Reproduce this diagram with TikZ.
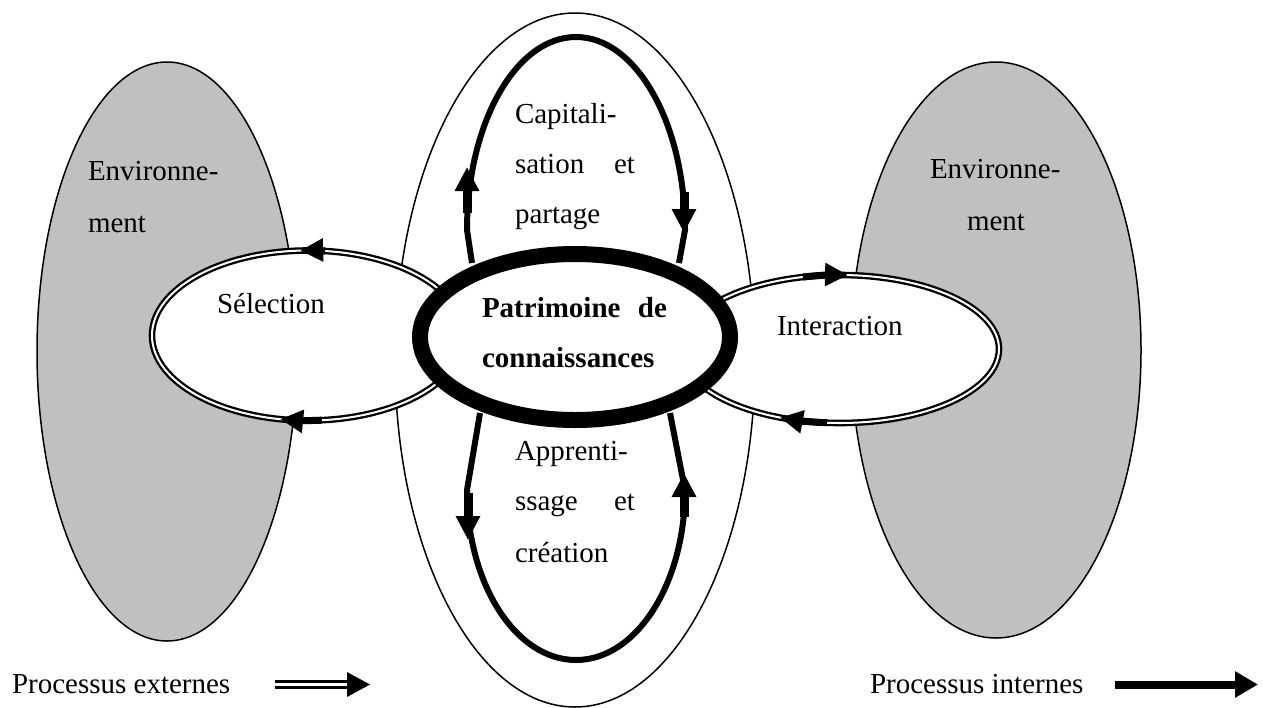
\documentclass[tikz,border=0pt]{standalone}
\usepackage{fontspec}
\setmainfont{Liberation Serif}
\usetikzlibrary{shapes.geometric,arrows.meta,calc}
\definecolor{envgray}{HTML}{C0C0C0}

\begin{document}
\begin{tikzpicture}[x=0.5pt,y=-0.5pt,
  every node/.style={font=\fontsize{14.5}{17}\selectfont, inner sep=0pt, outer sep=0pt},
  txt/.style={anchor=base west},
  envzone/.style={ellipse, draw, line width=0.75pt, fill=envgray},
  outerzone/.style={ellipse, draw, line width=0.75pt, fill=white},
  extproc/.style={ellipse, draw, fill=white, double, line width=1.15pt, double distance=1pt},
  corezone/.style={ellipse, draw, fill=white, line width=8pt},
  extarrow/.style={line width=3.5pt, -{Triangle[length=11.5pt,width=11pt]}},
  loopline/.style={line width=3pt},
  looparrow/.style={line width=4.5pt, -{Triangle[length=12pt,width=11.5pt]}},
]
\useasboundingbox (0,0) rectangle (1263,707);

% environment zones
\node[envzone, minimum width=130pt, minimum height=289.5pt] (envL) at (167,351.5) {};
\node[envzone, minimum width=145pt, minimum height=288pt] (envR) at (996,350) {};

% enterprise boundary
\node[outerzone, minimum width=180pt, minimum height=347pt] (firm) at (575,360) {};

% external processes
\node[extproc, minimum width=156pt, minimum height=85pt] (sel) at (308,335.5) {};
\node[extproc, minimum width=159pt, minimum height=74pt] (int) at (840,349) {};

\draw[extarrow] ($(sel.center)+(-83.7:156 and 85)$) arc[start angle=-83.7, end angle=-92.9, x radius=156, y radius=85];
\draw[extarrow] ($(sel.center)+(84.9:156 and 85)$) arc[start angle=84.9, end angle=100.3, x radius=156, y radius=85];
\draw[extarrow] ($(int.center)+(-103.5:159 and 74)$) arc[start angle=-103.5, end angle=-87.1, x radius=159, y radius=74];
\draw[extarrow] ($(int.center)+(94.7:159 and 74)$) arc[start angle=94.7, end angle=112.2, x radius=159, y radius=74];

% internal loops
\coordinate (capL) at (472,263);
\coordinate (capR) at (679,263);
\coordinate (appL) at (480,413);
\coordinate (appR) at (670,413);
\draw[loopline] (capL) -- (467,230) arc[start angle=180, end angle=360, x radius=109, y radius=193] -- (capR);
\draw[loopline] (appL) -- (467,490) arc[start angle=180, end angle=0, x radius=109, y radius=170] -- (appR);

\draw[looparrow] (467,213) -- (467,167);
\draw[looparrow] (684,192) -- (684,233);
\draw[looparrow] (468,493) -- (468,540);
\draw[looparrow] (684,517) -- (684,473);

% knowledge core
\node[corezone, minimum width=155pt, minimum height=83pt] (core) at (575,337) {};
\node[txt, font=\fontsize{14.5}{17}\selectfont\bfseries] (core1) at (482,317) {\hbox to 92.5pt{Patrimoine\hfill de}};
\node[txt, font=\fontsize{14.5}{17}\selectfont\bfseries] (core2) at (482,367) {connaissances};

% labels
\node[txt] (envL1) at (88,180) {Environne-};
\node[txt] (envL2) at (88,232) {ment};
\node[txt] (envR1) at (930,178) {Environne-};
\node[txt] (envR2) at (967,230) {ment};
\node[txt] (selT) at (217,313) {Sélection};
\node[txt] (intT) at (777,335) {Interaction};

\node[txt] (cap1) at (515,123) {Capitali-};
\node[txt] (cap2) at (515,173) {\hbox to 60pt{sation\hfill et}};
\node[txt] (cap3) at (515,223) {partage};
\node[txt] (app1) at (515,460) {Apprenti-};
\node[txt] (app2) at (515,510) {\hbox to 60pt{ssage\hfill et}};
\node[txt] (app3) at (515,562) {création};

% legend
\node[txt] (legExt) at (12,693) {Processus externes};
\node[txt] (legInt) at (870,693) {Processus internes};
\coordinate (ext1) at (275,684.5);
\coordinate (ext2) at (349,684.5);
\draw[double, line width=1.5pt, double distance=1.2pt] (ext1) -- (ext2);
\fill (347,672) -- (370,684.5) -- (347,697) -- cycle;
\coordinate (int1) at (1115,684.5);
\coordinate (int2) at (1258,684.5);
\draw[line width=4pt, -{Triangle[length=11.5pt,width=12.5pt]}] (int1) -- (int2);
\end{tikzpicture}
\end{document}
